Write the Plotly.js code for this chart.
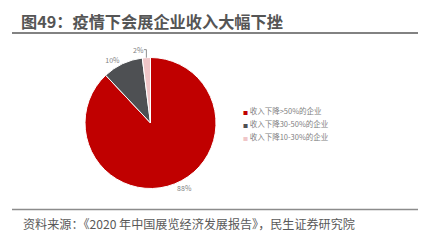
<!DOCTYPE html>
<html><head><meta charset="utf-8">
<script src="https://cdn.plot.ly/plotly-3.0.1.min.js"></script>
<style>html,body{margin:0;padding:0;background:#fff}#c{width:426px;height:249px}</style>
</head><body><div id="c"></div>
<script>
const categories = ["收入下降>50%的企业", "收入下降30-50%的企业", "收入下降10-30%的企业"];
const shares = [88, 10, 2];
const sliceColors = ["#C00000", "#4E5053", "#F0C6C8"];
const chartTitle = "图49：疫情下会展企业收入大幅下挫";
const sourceNote = "资料来源：《2020 年中国展览经济发展报告》，民生证券研究院";

const W = 426, H = 249;
const px = x => x / W, py = y => 1 - y / H;
const font = "'Noto Sans CJK SC', 'Noto Sans', sans-serif";

const trace = {
  type: "pie",
  labels: categories,
  values: shares,
  sort: false,
  direction: "clockwise",
  rotation: 0,
  marker: {colors: sliceColors, line: {color: "#ffffff", width: 1}},
  texttemplate: "%{value}%",
  textposition: "outside",
  textfont: {size: 7, color: "#7F7F7F", family: font},
  domain: {x: [px(85), px(216)], y: [py(189), py(57)]},
  showlegend: false,
  hoverinfo: "none"
};

const legendAnns = [];
const legendY0 = 110.5, legendStep = 13;
categories.forEach((c, i) => {
  legendAnns.push({
    xref: "paper", yref: "paper", x: px(241), y: py(legendY0 + i * legendStep),
    xanchor: "left", yanchor: "middle", showarrow: false,
    text: "<span style='color:" + sliceColors[i] + ";font-size:5px'>■</span> " + c,
    font: {size: 7.5, color: "#7F7F7F", family: font}
  });
});

const layout = {
  width: W, height: H,
  margin: {l: 0, r: 0, t: 0, b: 0},
  paper_bgcolor: "#ffffff",
  showlegend: false,
  title: {
    text: "<b>" + chartTitle + "</b>",
    x: px(21), xanchor: "left", xref: "paper",
    y: py(22), yanchor: "middle", yref: "paper",
    font: {size: 16.2, color: "#555555", family: font}
  },
  shapes: [
    {type: "line", xref: "paper", yref: "paper", x0: px(12), x1: px(418), y0: py(33), y1: py(33), line: {color: "#595959", width: 1.5}},
    {type: "line", xref: "paper", yref: "paper", x0: px(12), x1: px(418), y0: py(209.5), y1: py(209.5), line: {color: "#8C8C8C", width: 1.5}}
  ],
  annotations: legendAnns.concat([{
    xref: "paper", yref: "paper", x: px(21), y: py(223), xanchor: "left", yanchor: "middle",
    showarrow: false, text: sourceNote,
    font: {size: 12.1, color: "#595959", family: font}
  }])
};

Plotly.newPlot("c", [trace], layout, {staticPlot: true, displayModeBar: false});
</script>
</body></html>
